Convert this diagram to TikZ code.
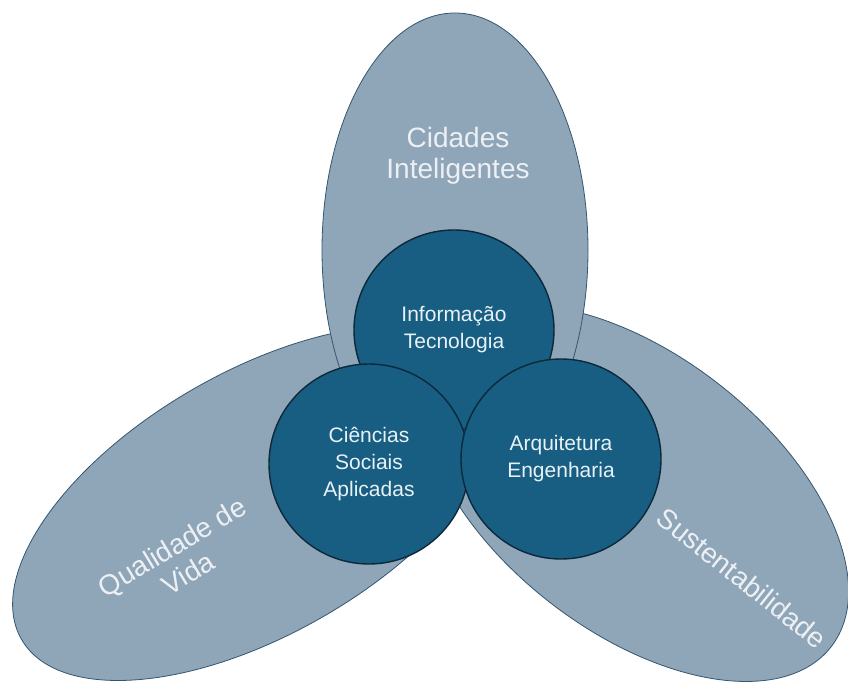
\documentclass[tikz,border=0pt]{standalone}
\usepackage{fontspec}
\setmainfont{Liberation Sans}
\usepackage{tikz}
\usetikzlibrary{shapes.geometric, positioning}
\definecolor{lobefill}{RGB}{143,165,184}
\definecolor{lobeline}{RGB}{52,86,112}
\definecolor{corefill}{RGB}{23,94,130}
\definecolor{coreline}{RGB}{12,40,58}
\definecolor{lobetxt}{RGB}{236,240,244}
\definecolor{coretxt}{RGB}{232,241,246}
\tikzset{
  every picture/.style={line width=0.8pt},
  lobe/.style={draw=lobeline, fill=lobefill, ellipse, inner sep=0pt},
  core/.style={draw=coreline, fill=corefill, circle, line width=1.4pt, minimum size=200pt,
    inner sep=0pt, text=coretxt, align=center, font=\fontsize{21}{27}\selectfont},
  lobelbl/.style={text=lobetxt, align=center, inner sep=0pt, font=\fontsize{28}{31}\selectfont}
}

\begin{document}
\begin{tikzpicture}[x=1pt, y=1pt]
    \clip (0,0) rectangle (848,689);

    % outer lobes
    \node [lobe, minimum width=546pt, minimum height=262pt, rotate=30] (qv) at (258,186) {};
    \node [lobe, minimum width=500pt, minimum height=276pt, rotate=-38] (su) at (634,196) {};
    \node [lobe, minimum width=266pt, minimum height=474pt] (ci) at (455,439) {};

    % inner circles
    \node [core] (it) at (454,359) {Informação\\Tecnologia};
    \node [core] (csa) at (369,225) {Ciências\\Sociais\\Aplicadas};
    \node [core] (ae) at (561,230) {Arquitetura\\Engenharia};

    \node [lobelbl] (ci-t) at (458,533) {Cidades\\Inteligentes};
    \node [lobelbl, rotate=31] (qv-t) at (180,129) {Qualidade de\\Vida};
    \node [lobelbl, rotate=-38.5] (su-t) at (742,111) {Sustentabilidade};
\end{tikzpicture}
\end{document}
